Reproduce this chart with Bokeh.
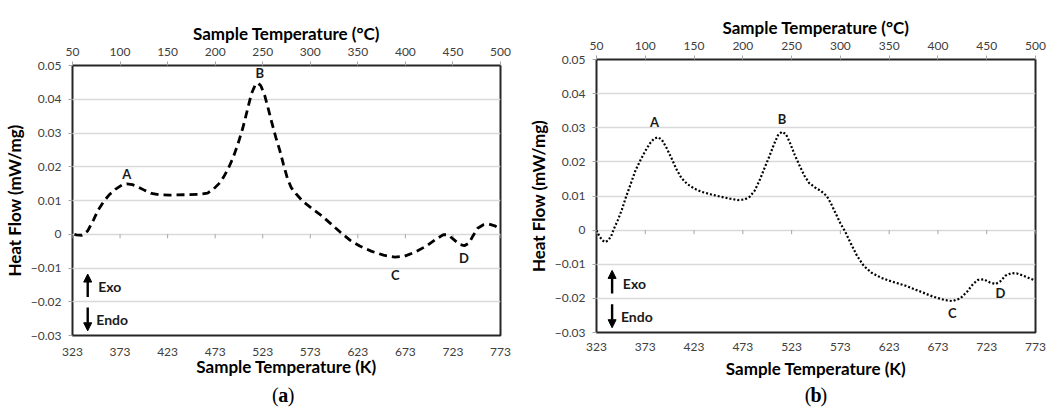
from bokeh.plotting import figure
from bokeh.layouts import row, column
from bokeh.models import (Range1d, LinearAxis, FixedTicker, CustomJSTickFormatter,
                          Arrow, NormalHead, Label)
from bokeh.embed import file_html
from bokeh.resources import INLINE
from bokeh.core.properties import value

# ---- DSC curve (a): sample temperature (K) vs heat flow (mW/mg) ----
temp_a = [325, 327, 333, 339, 345, 350, 356, 362, 368, 375, 380, 386, 392, 399, 406,
          414, 425, 440, 455, 465, 471, 477, 482, 487, 492, 497, 502, 507, 511, 515,
          518, 521, 525, 529, 533, 537, 541, 545, 549, 553, 558, 565, 575, 585, 595,
          605, 615, 625, 637, 650, 662, 672, 683, 695, 705, 713, 718, 724, 730, 735,
          740, 744, 749, 755, 761, 767, 773]
heat_a = [0.0, -0.0002, -0.0003, 0.001, 0.0042, 0.0072, 0.0098, 0.0118, 0.0133, 0.0146,
          0.0149, 0.0147, 0.0140, 0.0130, 0.0121, 0.0117, 0.0116, 0.0117, 0.0118, 0.0122,
          0.0133, 0.0150, 0.0170, 0.0196, 0.0228, 0.0268, 0.0314, 0.0370, 0.0415, 0.0442,
          0.0448, 0.0440, 0.0412, 0.0370, 0.0326, 0.0285, 0.0248, 0.0205, 0.0165, 0.0138,
          0.0120, 0.0098, 0.0076, 0.0055, 0.0030, 0.0005, -0.0018, -0.0035, -0.0050,
          -0.0062, -0.0068, -0.0065, -0.0053, -0.0035, -0.0015, -0.0001, -0.0002, -0.0016,
          -0.0030, -0.0034, -0.0026, -0.0005, 0.0018, 0.0028, 0.0030, 0.0025, 0.0015]

# ---- DSC curve (b) ----
temp_b = [323, 326, 329, 332, 335, 338, 341, 345, 349, 353, 358, 363, 368, 373, 378,
          382, 386, 390, 395, 400, 405, 410, 416, 423, 431, 440, 450, 460, 468, 475,
          480, 485, 490, 495, 500, 505, 509, 513, 517, 521, 526, 531, 536, 541, 547,
          553, 559, 563, 568, 573, 578, 583, 590, 597, 605, 615, 625, 640, 655, 668,
          680, 688, 696, 703, 709, 714, 720, 726, 732, 737, 742, 748, 754, 760, 766, 772]
heat_b = [0.0, -0.0018, -0.0030, -0.0035, -0.0030, -0.0018, 0.0005, 0.0030, 0.0060,
          0.0095, 0.0135, 0.0175, 0.0205, 0.0232, 0.0255, 0.0268, 0.0272, 0.0265, 0.0240,
          0.0210, 0.0178, 0.0153, 0.0135, 0.0122, 0.0112, 0.0105, 0.0098, 0.0092, 0.0088,
          0.0090, 0.0098, 0.0115, 0.0145, 0.0180, 0.0215, 0.0252, 0.0278, 0.0288, 0.0282,
          0.0258, 0.0222, 0.0190, 0.0160, 0.0138, 0.0125, 0.0115, 0.0100, 0.0080, 0.0050,
          0.0020, -0.0005, -0.0035, -0.0075, -0.0105, -0.0125, -0.0140, -0.0150, -0.0163,
          -0.0180, -0.0195, -0.0205, -0.0208, -0.0200, -0.0180, -0.0158, -0.0146, -0.0144,
          -0.0153, -0.0158, -0.0150, -0.0134, -0.0126, -0.0127, -0.0133, -0.0140, -0.0147]

# ---- axes ----
kelvin_ticks = [323, 373, 423, 473, 523, 573, 623, 673, 723, 773]
celsius_ticks = [50, 100, 150, 200, 250, 300, 350, 400, 450, 500]
heat_ticks = [-0.03, -0.02, -0.01, 0.0, 0.01, 0.02, 0.03, 0.04, 0.05]

# ---- peak letters ----
peak_names = ["A", "B", "C", "D"]
peak_x_a = [380, 520, 662.5, 734.5]
peak_y_a = [0.0178, 0.0477, -0.0121, -0.0071]
peak_x_b = [382.5, 513.3, 687.6, 737]
peak_y_b = [0.0317, 0.0325, -0.0242, -0.0184]

FONT = "Lato"
TICK_COLOR = "#a6a6a6"
LABEL_COLOR = "#404040"


def style_axis(ax, label_standoff, title_standoff, tick_out):
    ax.axis_label_text_font = FONT
    ax.axis_label_text_font_style = "bold"
    ax.axis_label_text_font_size = "17px"
    ax.axis_label_text_color = "black"
    ax.axis_label_standoff = title_standoff
    ax.major_label_text_font = FONT
    ax.major_label_text_font_size = "12px"
    ax.major_label_text_color = LABEL_COLOR
    ax.major_label_standoff = label_standoff
    ax.major_tick_out = tick_out
    ax.major_tick_in = 0
    ax.major_tick_line_color = TICK_COLOR if tick_out else None
    ax.minor_tick_line_color = None
    ax.axis_line_color = None


def make_panel(temps, heat, dash, lw, px, py, width, height, borders,
               bottom_gap, bottom_title_gap, left_title_gap):
    left, right, top, bottom = borders
    p = figure(width=width, height=height, output_backend="svg", toolbar_location=None,
               title_location=None,
               x_range=Range1d(323, 773), y_range=Range1d(-0.03, 0.05),
               min_border_left=left, min_border_right=right,
               min_border_top=top, min_border_bottom=bottom)
    p.extra_x_ranges = {"celsius": Range1d(50, 500)}
    p.background_fill_color = "white"
    p.border_fill_color = "white"
    p.outline_line_color = "#262626"
    p.outline_line_width = 2
    p.xgrid.grid_line_color = None
    p.ygrid.grid_line_color = "#d9d9d9"
    p.ygrid.grid_line_width = 1.5

    # left axis: heat flow
    ya = p.yaxis[0]
    ya.ticker = FixedTicker(ticks=heat_ticks)
    ya.formatter = CustomJSTickFormatter(code="""
        if (Math.abs(tick) < 1e-9) { return '0'; }
        return (tick < 0 ? '\u2212' : '') + Math.abs(tick).toFixed(2);
    """)
    ya.axis_label = "Heat Flow (mW/mg)"
    style_axis(ya, 7, left_title_gap, 4)

    # bottom axis: Kelvin (its tick marks sit on the zero line instead)
    xa = p.xaxis[0]
    xa.ticker = FixedTicker(ticks=kelvin_ticks)
    xa.axis_label = "Sample Temperature (K)"
    style_axis(xa, bottom_gap, bottom_title_gap, 0)

    # top axis: Celsius
    top_axis = LinearAxis(x_range_name="celsius", ticker=FixedTicker(ticks=celsius_ticks),
                          axis_label="Sample Temperature (°C)")
    style_axis(top_axis, 6, 1, 4)
    p.add_layout(top_axis, "above")

    # tick marks of the Kelvin axis on the zero line
    p.segment(x0=kelvin_ticks, y0=[0] * len(kelvin_ticks), x1=kelvin_ticks,
              y1=[-0.0012] * len(kelvin_ticks), line_color=TICK_COLOR, line_width=1)

    p.line(temps, heat, line_color="black", line_width=lw, line_dash=dash)

    p.text(x=px, y=py, text=peak_names, text_font=value(FONT), text_font_style="bold",
           text_font_size="13px", text_align="center", text_baseline="middle",
           text_color="#1a1a1a")

    # exo / endo direction marks
    p.add_layout(Arrow(x_start=339, y_start=-0.0186, x_end=339, y_end=-0.0118,
                       line_width=2.4, line_color="black",
                       end=NormalHead(size=8, fill_color="black", line_color="black")))
    p.add_layout(Arrow(x_start=339, y_start=-0.0217, x_end=339, y_end=-0.0286,
                       line_width=2.4, line_color="black",
                       end=NormalHead(size=8, fill_color="black", line_color="black")))
    p.add_layout(Label(x=350, y=-0.0156, text="Exo", text_font=FONT, text_font_style="bold",
                       text_font_size="14px", text_baseline="middle", text_color="#1a1a1a"))
    p.add_layout(Label(x=348, y=-0.0252, text="Endo", text_font=FONT, text_font_style="bold",
                       text_font_size="14px", text_baseline="middle", text_color="#1a1a1a"))
    return p


def make_caption(letter, width, height, cx, cy):
    # a bare strip holding the panel letter: "(" + bold letter + ")"
    c = figure(width=width, height=height, output_backend="svg", toolbar_location=None,
               title_location=None, x_range=Range1d(0, width), y_range=Range1d(0, height),
               min_border=0, outline_line_color=None)
    c.axis.visible = False
    c.grid.visible = False
    serif = value("Liberation Serif")
    c.text(x=[cx - 5.5], y=[cy], text=["("], text_font=serif, text_font_size="20px",
           text_align="right", text_baseline="middle", text_color="black")
    c.text(x=[cx], y=[cy], text=[letter], text_font=serif, text_font_size="20px",
           text_font_style="bold", text_align="center", text_baseline="middle",
           text_color="black")
    c.text(x=[cx + 5.5], y=[cy], text=[")"], text_font=serif, text_font_size="20px",
           text_align="left", text_baseline="middle", text_color="black")
    return c


pa = make_panel(temp_a, heat_a, "8 5", 2.8, peak_x_a, peak_y_a,
                520, 381, (68, 20, 65, 46), 12, -3, 3)
pb = make_panel(temp_b, heat_b, "2 2", 2.2, peak_x_b, peak_y_b,
                526, 381, (76, 11, 59, 49), 10, 4, 3)
cap_a = make_caption("a", 520, 31, 256, 18)
cap_b = make_caption("b", 526, 31, 263, 18)

layout = row(column(pa, cap_a), column(pb, cap_b))
open("out.html", "w").write(file_html(layout, INLINE))
